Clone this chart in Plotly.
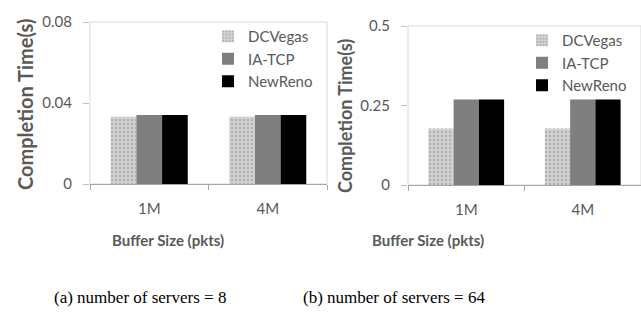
import plotly.graph_objects as go

categories = ["1M", "4M"]
series_names = ["DCVegas", "IA-TCP", "NewReno"]
left_values = {"DCVegas": [0.0332, 0.0332], "IA-TCP": [0.0341, 0.0341], "NewReno": [0.0341, 0.0341]}
right_values = {"DCVegas": [0.178, 0.178], "IA-TCP": [0.269, 0.269], "NewReno": [0.269, 0.269]}
left_ticks = [0, 0.04, 0.08]
left_ticktext = ["0", "0.04", "0.08"]
right_ticks = [0, 0.25, 0.5]
right_ticktext = ["0", "0.25", "0.5"]
y_title = "Completion Time(s)"
x_title = "Buffer Size (pkts)"
captions = ["(a) number of servers = 8", "(b) number of servers = 64"]

colors = {"DCVegas": "#cacaca", "IA-TCP": "#7f7f7f", "NewReno": "#000000"}
FONT = "Lato"
TXT = "#595959"
W, H = 641, 320

fig = go.Figure()
for name in series_names:
    pat = dict(shape=".", fgcolor="#b0b0b0", bgcolor="#d2d2d2", size=4, solidity=0.3) if name == "DCVegas" else None
    fig.add_trace(go.Bar(x=categories, y=left_values[name], name=name, xaxis="x", yaxis="y",
                         marker=dict(color=colors[name], line=dict(width=0), pattern=pat),
                         legend="legend"))
for name in series_names:
    pat = dict(shape=".", fgcolor="#b0b0b0", bgcolor="#d2d2d2", size=4, solidity=0.3) if name == "DCVegas" else None
    fig.add_trace(go.Bar(x=categories, y=right_values[name], name=name, xaxis="x2", yaxis="y2",
                         marker=dict(color=colors[name], line=dict(width=0), pattern=pat),
                         legend="legend2"))

xcommon = dict(type="category", showline=True, linecolor="#a6a6a6", linewidth=1,
               ticks="outside", tickson="boundaries", ticklen=5, tickcolor="#a6a6a6",
               tickfont=dict(family=FONT, size=15, color=TXT), ticklabelstandoff=11,
               showgrid=False, zeroline=False, fixedrange=True, automargin=False)
ycommon = dict(showline=False, ticks="outside", ticklen=6, tickcolor="#bfbfbf",
               tickfont=dict(family=FONT, size=15, color=TXT), ticklabelstandoff=8,
               showgrid=False, zeroline=False, automargin=False)

fig.update_layout(
    template="none",
    width=W, height=H,
    margin=dict(l=0, r=0, t=0, b=0, autoexpand=False),
    paper_bgcolor="white", plot_bgcolor="white",
    barmode="group", bargap=0.35, bargroupgap=0,
    xaxis=dict(domain=[90/W, 327/W], anchor="y", **xcommon),
    yaxis=dict(domain=[1-184/H, 1-22/H], anchor="x", range=[0, 0.08],
               tickvals=left_ticks, ticktext=left_ticktext, **ycommon),
    xaxis2=dict(domain=[408/W, 1.0], anchor="y2", **xcommon),
    yaxis2=dict(domain=[1-185/H, 1-26/H], anchor="x2", range=[0, 0.5],
                tickvals=right_ticks, ticktext=right_ticktext, **ycommon),
    legend=dict(x=208/W, y=1-20/H, xanchor="left", yanchor="top",
                font=dict(family=FONT, size=15, color=TXT), bgcolor="rgba(0,0,0,0)",
                tracegroupgap=0, itemwidth=30),
    legend2=dict(x=522/W, y=1-24/H, xanchor="left", yanchor="top",
                 font=dict(family=FONT, size=15, color=TXT), bgcolor="rgba(0,0,0,0)",
                 tracegroupgap=0, itemwidth=30),
    showlegend=True,
)

# plot-area borders
for xr, yr in [("x domain", "y domain"), ("x2 domain", "y2 domain")]:
    fig.add_shape(type="rect", xref=xr, yref=yr, x0=0, x1=1, y0=0, y1=1,
                  line=dict(color="#d9d9d9", width=1), layer="below")

def ann(text, px, py, size, family=FONT, color=TXT, angle=0):
    fig.add_annotation(text=text, x=px/W, y=1-py/H, xref="paper", yref="paper",
                       xanchor="center", yanchor="middle", textangle=angle,
                       showarrow=False, font=dict(family=family, size=size, color=color))

# axis titles
ann(f"<b>{y_title}</b>", 25, 105, 20, angle=-90)
ann(f"<b>{y_title}</b>", 345, 116, 18, angle=-90)
ann(f"<b>{x_title}</b>", 168, 240, 15)
ann(f"<b>{x_title}</b>", 428, 240, 15)
# captions
ann(captions[0], 139.5, 297, 17, family="Liberation Serif", color="#000000")
ann(captions[1], 393.5, 297, 17, family="Liberation Serif", color="#000000")

fig.write_html("out.html", config={"displayModeBar": False},
               post_script="document.body.style.margin='0';")
